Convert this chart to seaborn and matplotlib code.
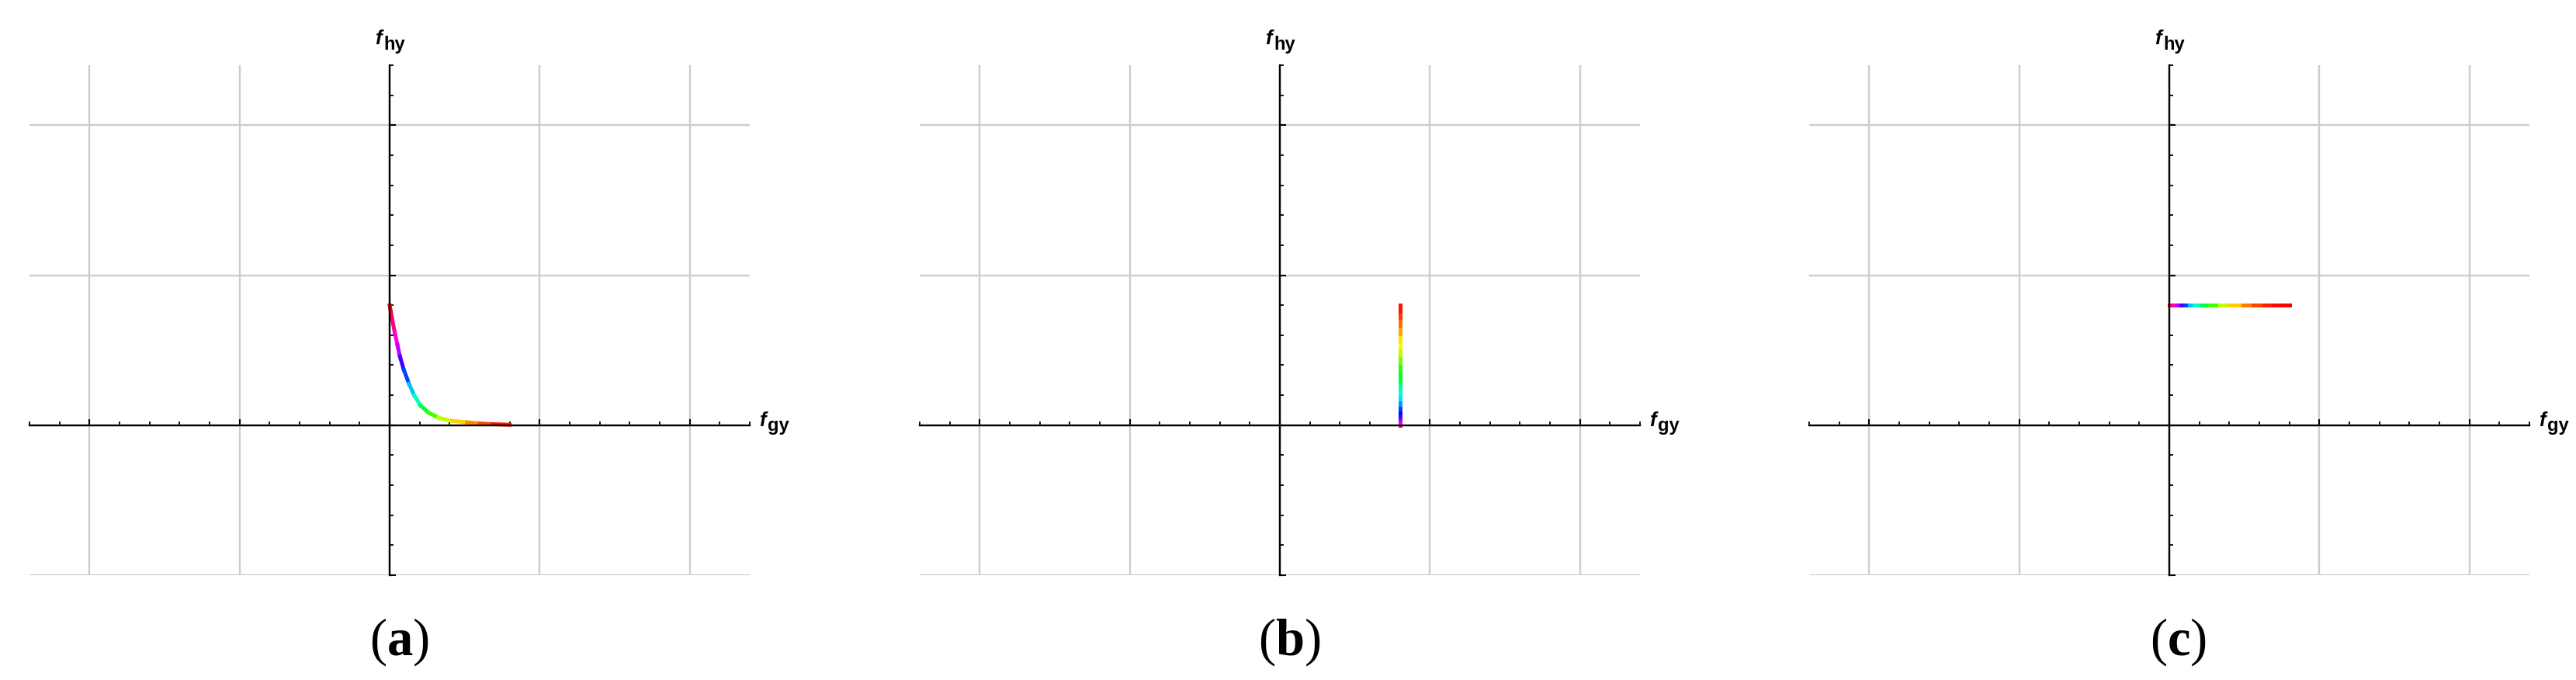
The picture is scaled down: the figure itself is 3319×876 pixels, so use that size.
import numpy as np
import matplotlib
matplotlib.use("Agg")
import matplotlib.pyplot as plt
import seaborn as sns
from matplotlib.collections import LineCollection
from matplotlib.colors import hsv_to_rgb
from matplotlib.ticker import MultipleLocator

# ---------------- data ----------------
panel_labels = ["a", "b", "c"]
x_label_main, x_label_sub = "f", "gy"
y_label_main, y_label_sub = "f", "hy"

# (a) decaying trajectory
a_x = [0.0, 0.008, 0.017, 0.034, 0.052, 0.069, 0.094, 0.129, 0.163, 0.206,
       0.258, 0.326, 0.412, 0.515, 0.601, 0.687, 0.80]
a_y = [0.80, 0.755, 0.706, 0.620, 0.535, 0.457, 0.371, 0.277, 0.200, 0.131,
       0.085, 0.050, 0.029, 0.019, 0.012, 0.007, 0.003]
a_hue = [1.0, 0.97, 0.94, 0.88, 0.83, 0.75, 0.67, 0.58, 0.50, 0.42,
         0.33, 0.25, 0.16, 0.11, 0.07, 0.03, 0.0]

# (b) vertical trajectory at f_gy = 0.8
b_x = [0.8] * 22
b_y = [0.0, 0.015, 0.03, 0.045, 0.06, 0.08, 0.107, 0.14, 0.175, 0.21, 0.25,
       0.30, 0.373, 0.42, 0.47, 0.52, 0.562, 0.61, 0.665, 0.72, 0.76, 0.80]
b_hue = [1.0, 0.88, 0.83, 0.77, 0.73, 0.69, 0.66, 0.59, 0.54, 0.50, 0.45,
         0.40, 0.33, 0.28, 0.23, 0.19, 0.165, 0.13, 0.09, 0.05, 0.025, 0.0]

# (c) horizontal trajectory at f_hy = 0.8
c_x = [0.0, 0.025, 0.053, 0.08, 0.105, 0.135, 0.165, 0.215, 0.268, 0.335,
       0.406, 0.49, 0.56, 0.63, 0.70, 0.75, 0.80]
c_y = [0.8] * 17
c_hue = [1.0, 0.92, 0.83, 0.75, 0.667, 0.58, 0.50, 0.42, 0.333, 0.25,
         0.167, 0.10, 0.06, 0.03, 0.01, 0.0, 0.0]

x_limits = (-2.4, 2.4)
y_limits = (-1.0, 2.4)

# ---------------- style ----------------
sns.set_theme(style="white")
plt.rcParams["font.family"] = ["Liberation Sans", "DejaVu Sans"]
plt.rcParams["text.color"] = "black"
plt.rcParams["mathtext.fontset"] = "custom"
plt.rcParams["mathtext.rm"] = "Liberation Serif"
plt.rcParams["mathtext.bf"] = "Liberation Serif:bold"

W, H = 3319, 876
fig = plt.figure(figsize=(W / 100, H / 100), dpi=100)
fig.patch.set_facecolor("white")

lefts = [38, 1185, 2331]
ax_w, ax_top, ax_bot = 928, 84, 741

series = [(a_x, a_y, a_hue), (b_x, b_y, b_hue), (c_x, c_y, c_hue)]


def gradient_line(ax, xs, ys, hues):
    pts = np.column_stack([xs, ys])
    segs = np.stack([pts[:-1], pts[1:]], axis=1)
    h = np.asarray(hues, dtype=float)
    seg_h = (h[:-1] + h[1:]) / 2.0
    ones = np.ones_like(seg_h)
    cols = hsv_to_rgb(np.column_stack([seg_h, ones, ones]))
    lc = LineCollection(segs, colors=cols, linewidths=3.6,
                        capstyle="projecting", joinstyle="miter", zorder=2)
    ax.add_collection(lc)


for i, L in enumerate(lefts):
    ax = fig.add_axes([L / W, 1 - ax_bot / H, ax_w / W, (ax_bot - ax_top) / H])
    ax.set_facecolor("white")
    ax.set_xlim(*x_limits)
    ax.set_ylim(*y_limits)
    sns.despine(ax=ax)
    for side in ("left", "bottom"):
        ax.spines[side].set_position(("data", 0))
        ax.spines[side].set_color("black")
        ax.spines[side].set_linewidth(1.7)
        ax.spines[side].set_zorder(3)
    ax.set_xticks([-2, -1, 0, 1, 2])
    ax.set_yticks([-1, 0, 1, 2])
    ax.xaxis.set_minor_locator(MultipleLocator(0.2))
    ax.yaxis.set_minor_locator(MultipleLocator(0.2))
    ax.tick_params(which="major", direction="in", length=5.8, width=1.5,
                   color="black", labelbottom=False, labelleft=False,
                   bottom=True, left=True)
    ax.tick_params(which="minor", direction="in", length=3.4, width=1.3,
                   color="black", bottom=True, left=True)
    ax.grid(True, which="major", color="#cccccc", linewidth=1.7)
    ax.set_axisbelow(True)

    xs, ys, hs = series[i]
    gradient_line(ax, xs, ys, hs)

    yax = L + 464  # pixel x of the f_gy = 0 axis
    # y-axis label
    fig.text((yax - 19) / W, 1 - 57 / H, y_label_main, fontsize=18.5,
             fontweight="bold", fontstyle="italic", ha="left", va="baseline",
             color="black")
    fig.text((yax - 8) / W, 1 - 64 / H, y_label_sub, fontsize=17,
             fontweight="bold", ha="left", va="baseline", color="black")
    # x-axis label
    fig.text((L + 940) / W, 1 - 549 / H, x_label_main, fontsize=18.5,
             fontweight="bold", fontstyle="italic", ha="left", va="baseline",
             color="black")
    fig.text((L + 951) / W, 1 - 555 / H, x_label_sub, fontsize=17,
             fontweight="bold", ha="left", va="baseline", color="black")
    # sub-figure label
    fig.text((yax + 12) / W, 1 - 844 / H,
             r"$(\mathbf{" + panel_labels[i] + r"})$",
             fontsize=48, ha="center", va="baseline", color="black")

fig.savefig("out.png", dpi=100, facecolor="white")
